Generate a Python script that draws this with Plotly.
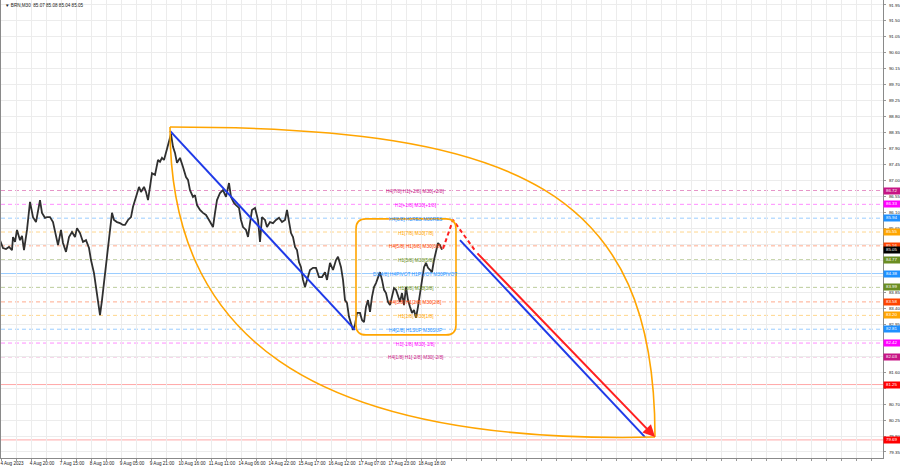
import plotly.graph_objects as go

# ---------------- data ----------------
# bar index (time position) and closing price
bar = [0,3,6,9,12,13,15,17,20,22,24,27,30,33,36,40,42,45,47,50,53,56,58,61,63,66,69,72,75,77,80,83,86,89,91,94,96,98,100,
       102,104,106,108,110,112,114,117,120,123,125,128,131,133,136,139,141,144,146,148,150,152,155,158,160,162,164,166,169,171,
       173,175,177,180,183,186,188,190,193,195,197,200,203,206,209,211,213,215,217,220,223,226,229,231,234,236,239,241,243,246,
       248,250,252,255,258,260,262,265,267,270,273,276,279,282,285,287,289,291,293,295,297,299,301,303,305,307,310,313,316,319,
       322,325,327,330,333,336,338,341,343,345,347,349,351,353,355,357,360,362,364,366,368,370,372,374,376,378,380,382,384,386,
       388,390,392,394,396,398,400,402,404,406,408,410,412,414,416,418,420,422,424,426,428,430,432,434,436,438,440,442]
close = [85.32,85.10,85.07,85.13,85.04,85.41,85.27,85.61,85.32,85.44,85.04,85.61,86.40,85.97,85.83,86.45,86.09,85.95,85.97,85.97,
         85.83,85.41,85.18,85.61,85.24,84.99,85.41,85.55,85.41,85.66,85.52,85.27,85.32,85.10,84.76,84.39,84.00,83.72,83.21,
         83.63,84.11,84.76,85.13,85.69,86.09,85.89,85.83,85.80,85.75,85.75,85.89,85.97,86.26,86.54,86.82,86.68,86.82,86.68,86.45,
         86.82,87.21,87.16,87.58,87.53,87.64,87.58,87.78,88.14,88.31,
         87.95,87.78,87.50,87.64,87.38,87.10,87.02,86.73,86.54,86.59,86.31,86.17,86.09,86.03,85.89,85.80,85.69,86.09,86.45,86.65,
         86.73,86.54,86.93,86.54,86.37,86.31,86.23,85.89,85.69,85.61,
         85.41,85.80,86.17,86.23,85.89,85.27,85.97,85.89,85.69,85.83,85.80,85.89,85.95,85.83,85.89,86.17,85.89,85.52,85.41,85.13,
         85.04,84.70,84.56,84.20,84.00,84.20,84.48,84.54,84.54,84.28,
         84.28,84.42,84.20,84.68,84.48,84.76,84.85,84.56,84.20,83.63,83.55,83.16,82.99,82.79,82.93,83.27,83.27,83.07,83.01,83.44,
         83.63,83.30,83.72,84.00,84.11,84.28,84.42,84.20,83.92,83.83,
         83.58,83.49,83.72,83.97,83.92,83.72,83.58,83.83,83.49,84.00,83.63,83.44,83.27,83.35,83.13,83.44,83.83,84.11,84.56,84.68,
         84.54,84.48,84.42,84.76,85.04,85.24,85.18,85.05]

tick_bars = [1, 31, 61, 91, 121, 151, 181, 211, 241, 271, 301, 331, 361, 391, 421]
tick_text = ["4 Aug 2023", "4 Aug 20:00", "7 Aug 15:00", "8 Aug 10:00", "9 Aug 05:00", "9 Aug 21:00",
             "10 Aug 16:00", "11 Aug 11:00", "14 Aug 06:00", "14 Aug 22:00", "15 Aug 17:00",
             "16 Aug 12:00", "17 Aug 07:00", "17 Aug 23:00", "18 Aug 18:00"]

price_ticks = [79.35, 79.80, 80.25, 80.70, 81.15, 81.60, 82.05, 82.50, 82.95, 83.40, 83.85, 84.30, 84.75,
               85.20, 85.65, 86.10, 86.55, 87.00, 87.45, 87.90, 88.35, 88.80, 89.25, 89.70, 90.15, 90.60,
               91.05, 91.50, 91.95]
# axis labels hidden behind the coloured level labels
price_ticks_hidden = [81.15, 82.05, 82.50, 84.30, 84.75, 85.20]

level_price = [86.72, 86.33, 85.94, 85.55, 85.16, 84.77, 84.38, 83.99, 83.58, 83.20, 82.81, 82.42, 82.03]
level_text = ["H4[7/8] H1[+2/8] M30[+2/8]", "H1[+1/8] M30[+1/8]", "H4[6/8] H1RES M30RES",
              "H1[7/8] M30[7/8]", "H4[5/8] H1[6/8] M30[6/8]", "H1[5/8] M30[5/8]",
              "D1[4/8] H4PIVOT H1PIVOT M30PIVOT", "H1[3/8] M30[3/8]", "H4[3/8] H1[2/8] M30[2/8]",
              "H1[1/8] M30[1/8]", "H4[2/8] H1SUP M30SUP", "H1[-1/8] M30[-1/8]", "H4[1/8] H1[-2/8] M30[-2/8]"]
level_color = ["#C71585", "#FF00FF", "#1E90FF", "#FFA500", "#FF4500", "#6B8E23", "#1E90FF",
               "#6B8E23", "#FF4500", "#FFA500", "#1E90FF", "#FF00FF", "#C71585"]
level_dash = ["dash", "dash", "dash", "dash", "dash", "dash", "solid",
              "dash", "dash", "dash", "dash", "dash", "dash"]

red_levels = [81.25, 79.69]
last_price = 85.05
title_text = "\u25bc BRN,M30  85.07 85.08 85.04 85.05"

# drawing anchors (time, price)
trend_start = (170, 88.40)
trend_end = (355, 82.79)
lens_start = (170, 88.51)
lens_end = (655, 79.77)
box_time = (356, 456)
box_price = (82.65, 85.92)
proj_dash = [(443, 85.08), (453, 85.89), (476, 84.99)]
proj_red_end = (655, 79.77)
proj_blue = [(460, 85.32), (645, 79.77)]

# ---------------- figure ----------------
FONT = "Liberation Sans, Arial, DejaVu Sans"
X0, X1 = 1, 883
Y0, Y1 = 79.18, 92.09
PX_PER_PRICE = 458 / (Y1 - Y0)

fig = go.Figure()
fig.add_trace(go.Scatter(x=bar, y=close, mode="lines",
                         line=dict(color="#303030", width=1.8), hoverinfo="skip"))

shapes = []
annotations = []

def rgba(hexc, a):
    h = hexc.lstrip("#")
    return "rgba(%d,%d,%d,%.2f)" % (int(h[0:2], 16), int(h[2:4], 16), int(h[4:6], 16), a)

for p, c, d in zip(level_price, level_color, level_dash):
    shapes.append(dict(type="line", xref="paper", x0=0, x1=1, yref="y", y0=p, y1=p,
                       line=dict(color=rgba(c, 0.45), width=1, dash="4px,3px" if d == "dash" else "solid"),
                       layer="between"))
for p in red_levels:
    shapes.append(dict(type="line", xref="paper", x0=0, x1=1, yref="y", y0=p, y1=p,
                       line=dict(color=rgba("#FF0000", 0.35), width=1), layer="between"))

# level texts in the chart
for p, c, t in zip(level_price, level_color, level_text):
    annotations.append(dict(x=415, y=p, xref="x", yref="y", text=t, showarrow=False,
                            font=dict(family=FONT, size=4.8, color=c), yshift=-1))

# price labels on the axis
for p, c in zip(level_price, level_color):
    annotations.append(dict(x=1, y=p, xref="paper", yref="y", xanchor="left", text="%.2f" % p,
                            showarrow=False, bgcolor=c, width=15, height=5, borderpad=0.3,
                            font=dict(family=FONT, size=4.4, color="white")))
for p in red_levels:
    annotations.append(dict(x=1, y=p, xref="paper", yref="y", xanchor="left", text="%.2f" % p,
                            showarrow=False, bgcolor="#FF0000", width=15, height=5, borderpad=0.3,
                            font=dict(family=FONT, size=4.4, color="white")))
annotations.append(dict(x=1, y=last_price, xref="paper", yref="y", xanchor="left", text="%.2f" % last_price,
                        showarrow=False, bgcolor="#000000", width=15, height=5, borderpad=0.3,
                        font=dict(family=FONT, size=4.4, color="white")))

# title
annotations.append(dict(x=0.002, y=0.997, xref="paper", yref="paper", xanchor="left", yanchor="top",
                        text=title_text, showarrow=False, font=dict(family=FONT, size=4.6, color="#222")))

# blue trend line
shapes.append(dict(type="line", xref="x", yref="y", x0=trend_start[0], y0=trend_start[1],
                   x1=trend_end[0], y1=trend_end[1], line=dict(color="#1f3ae8", width=2)))

# orange lens (two curves)
(lx0, ly0), (lx1, ly1) = lens_start, lens_end
dxl, dyl = lx1 - lx0, ly0 - ly1
up = "M %f,%f C %f,%f %f,%f %f,%f" % (lx0, ly0, lx0 + 0.72 * dxl, ly0, lx1, ly0 - 0.203 * dyl, lx1, ly1)
lo = "M %f,%f C %f,%f %f,%f %f,%f" % (lx0, ly0, lx0, ly0 - 0.655 * dyl, lx0 + 0.268 * dxl, ly1 - 0.025 * dyl, lx1, ly1)
for pth in (up, lo):
    shapes.append(dict(type="path", xref="x", yref="y", path=pth, line=dict(color="#FFA500", width=1.6)))

# rounded rectangle
bx0, bx1 = box_time
by0, by1 = box_price
rx = 10.0
ry = 10.0 / PX_PER_PRICE
rr = ("M %f,%f L %f,%f Q %f,%f %f,%f L %f,%f Q %f,%f %f,%f L %f,%f Q %f,%f %f,%f L %f,%f Q %f,%f %f,%f Z" %
      (bx0 + rx, by1, bx1 - rx, by1, bx1, by1, bx1, by1 - ry, bx1, by0 + ry, bx1, by0, bx1 - rx, by0,
       bx0 + rx, by0, bx0, by0, bx0, by0 + ry, bx0, by1 - ry, bx0, by1, bx0 + rx, by1))
shapes.append(dict(type="path", xref="x", yref="y", path=rr, line=dict(color="#FFA500", width=1.6)))

# projections
fig.add_trace(go.Scatter(x=[p[0] for p in proj_dash], y=[p[1] for p in proj_dash], mode="lines",
                         line=dict(color="#FF2020", width=2, dash="4px,3px"), hoverinfo="skip"))
fig.add_trace(go.Scatter(x=[p[0] for p in proj_blue], y=[p[1] for p in proj_blue], mode="lines",
                         line=dict(color="#1f3ae8", width=2), hoverinfo="skip"))
annotations.append(dict(x=proj_red_end[0], y=proj_red_end[1], ax=proj_dash[-1][0], ay=proj_dash[-1][1],
                        xref="x", yref="y", axref="x", ayref="y", text="", showarrow=True,
                        arrowhead=2, arrowsize=1.2, arrowwidth=2, arrowcolor="#FF2020"))

fig.update_layout(
    width=900, height=468, showlegend=False,
    margin=dict(l=1, r=17, t=0, b=10),
    paper_bgcolor="white", plot_bgcolor="white",
    shapes=shapes, annotations=annotations,
    xaxis=dict(range=[X0, X1], tickmode="array", tickvals=tick_bars, ticktext=tick_text,
               ticklabelshift=11, ticklabelstandoff=0,
               tickfont=dict(family=FONT, size=4.6, color="#222"),
               showgrid=True, gridcolor="#ececec", gridwidth=1,
               minor=dict(tickmode="linear", tick0=1, dtick=15, showgrid=True, gridcolor="#ececec",
                          ticks="outside", ticklen=2, tickcolor="#999"),
               showline=True, linecolor="#8a8a8a", linewidth=1, mirror=True, zeroline=False,
               ticks=""),
    yaxis=dict(range=[Y0, Y1], side="right", tickmode="array", tickvals=price_ticks,
               ticktext=["" if v in price_ticks_hidden else "%.2f" % v for v in price_ticks],
               tickfont=dict(family=FONT, size=4.4, color="#222"), ticklabelstandoff=2,
               showgrid=True, gridcolor="#ececec", gridwidth=1,
               showline=True, linecolor="#8a8a8a", linewidth=1, mirror=True, zeroline=False,
               ticks="outside", ticklen=2, tickcolor="#999"),
)

fig.write_html("out.html", config={"displayModeBar": False},
               post_script="document.body.style.margin='0';document.body.style.overflow='hidden';")
